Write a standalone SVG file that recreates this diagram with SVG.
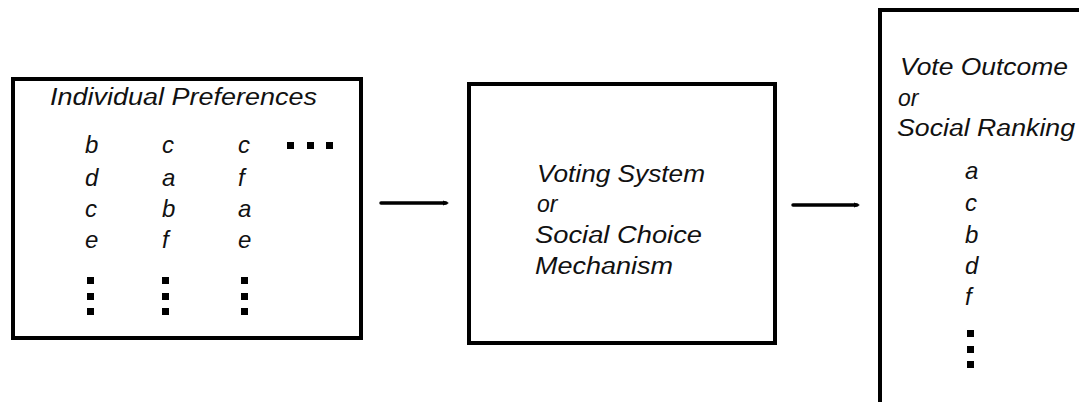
<svg xmlns="http://www.w3.org/2000/svg" width="1079" height="402" viewBox="0 0 1079 402">
  <defs>
    <style>
      .box { fill: #fff; stroke: #000; stroke-width: 4; }
      .t { font-family: "Liberation Sans", Arial, sans-serif; font-style: italic; font-size: 23px; fill: #111; }
      .l { font-family: "Liberation Sans", Arial, sans-serif; font-style: italic; font-size: 24px; fill: #111; }
      .dot { fill: #000; }
      .conn { stroke: #000; stroke-width: 3.5; stroke-linecap: round; fill: none; }
    </style>
    <marker id="head" viewBox="0 0 6 6" refX="3" refY="3" markerWidth="6" markerHeight="6" markerUnits="userSpaceOnUse" orient="auto">
      <path d="M0,0.5 L6,3 L0,5.5 Z" fill="#000"/>
    </marker>
  </defs>

  <rect width="1079" height="402" fill="#fff"/>

  <!-- Individual preference lists -->
  <g id="preferences">
    <rect class="box" x="13" y="79" width="348" height="259"/>
    <text class="t" x="50" y="105" textLength="267" lengthAdjust="spacingAndGlyphs">Individual Preferences</text>
    <g class="l">
      <text x="85" y="153">b</text><text x="85" y="186">d</text><text x="85" y="217">c</text><text x="85" y="248">e</text>
      <text x="162" y="153">c</text><text x="162" y="186">a</text><text x="162" y="217">b</text><text x="162" y="248">f</text>
      <text x="238" y="153">c</text><text x="238" y="186">f</text><text x="238" y="217">a</text><text x="238" y="248">e</text>
    </g>
    <g class="dot">
      <rect x="87" y="277" width="7" height="7"/><rect x="87" y="293" width="7" height="7"/><rect x="87" y="308" width="7" height="7"/>
      <rect x="162" y="277" width="7" height="7"/><rect x="162" y="293" width="7" height="7"/><rect x="162" y="308" width="7" height="7"/>
      <rect x="241" y="277" width="7" height="7"/><rect x="241" y="293" width="7" height="7"/><rect x="241" y="308" width="7" height="7"/>
      <rect x="287" y="142" width="7" height="7"/><rect x="307" y="142" width="7" height="7"/><rect x="326" y="142" width="7" height="7"/>
    </g>
  </g>

  <!-- Aggregation mechanism -->
  <g id="mechanism">
    <rect class="box" x="469" y="84" width="306" height="259"/>
    <text class="t" x="537" y="182" textLength="168" lengthAdjust="spacingAndGlyphs">Voting System</text>
    <text class="t" x="537" y="212">or</text>
    <text class="t" x="535" y="243" textLength="167" lengthAdjust="spacingAndGlyphs">Social Choice</text>
    <text class="t" x="535" y="274" textLength="138" lengthAdjust="spacingAndGlyphs">Mechanism</text>
  </g>

  <!-- Resulting social ranking -->
  <g id="outcome">
    <rect class="box" x="880" y="10" width="220" height="420"/>
    <text class="t" x="900" y="75" textLength="168" lengthAdjust="spacingAndGlyphs">Vote Outcome</text>
    <text class="t" x="898" y="106">or</text>
    <text class="t" x="897" y="136" textLength="178" lengthAdjust="spacingAndGlyphs">Social Ranking</text>
    <g class="l">
      <text x="965" y="179">a</text><text x="965" y="211">c</text><text x="965" y="243">b</text><text x="965" y="274">d</text><text x="965" y="305">f</text>
    </g>
    <g class="dot">
      <rect x="967" y="330" width="7" height="7"/><rect x="967" y="346" width="7" height="7"/><rect x="967" y="361" width="7" height="7"/>
    </g>
  </g>

  <!-- Connectors -->
  <g id="connectors">
    <line class="conn" x1="381" y1="203" x2="446" y2="203" marker-end="url(#head)"/>
    <line class="conn" x1="793" y1="205" x2="857" y2="205" marker-end="url(#head)"/>
  </g>
</svg>
